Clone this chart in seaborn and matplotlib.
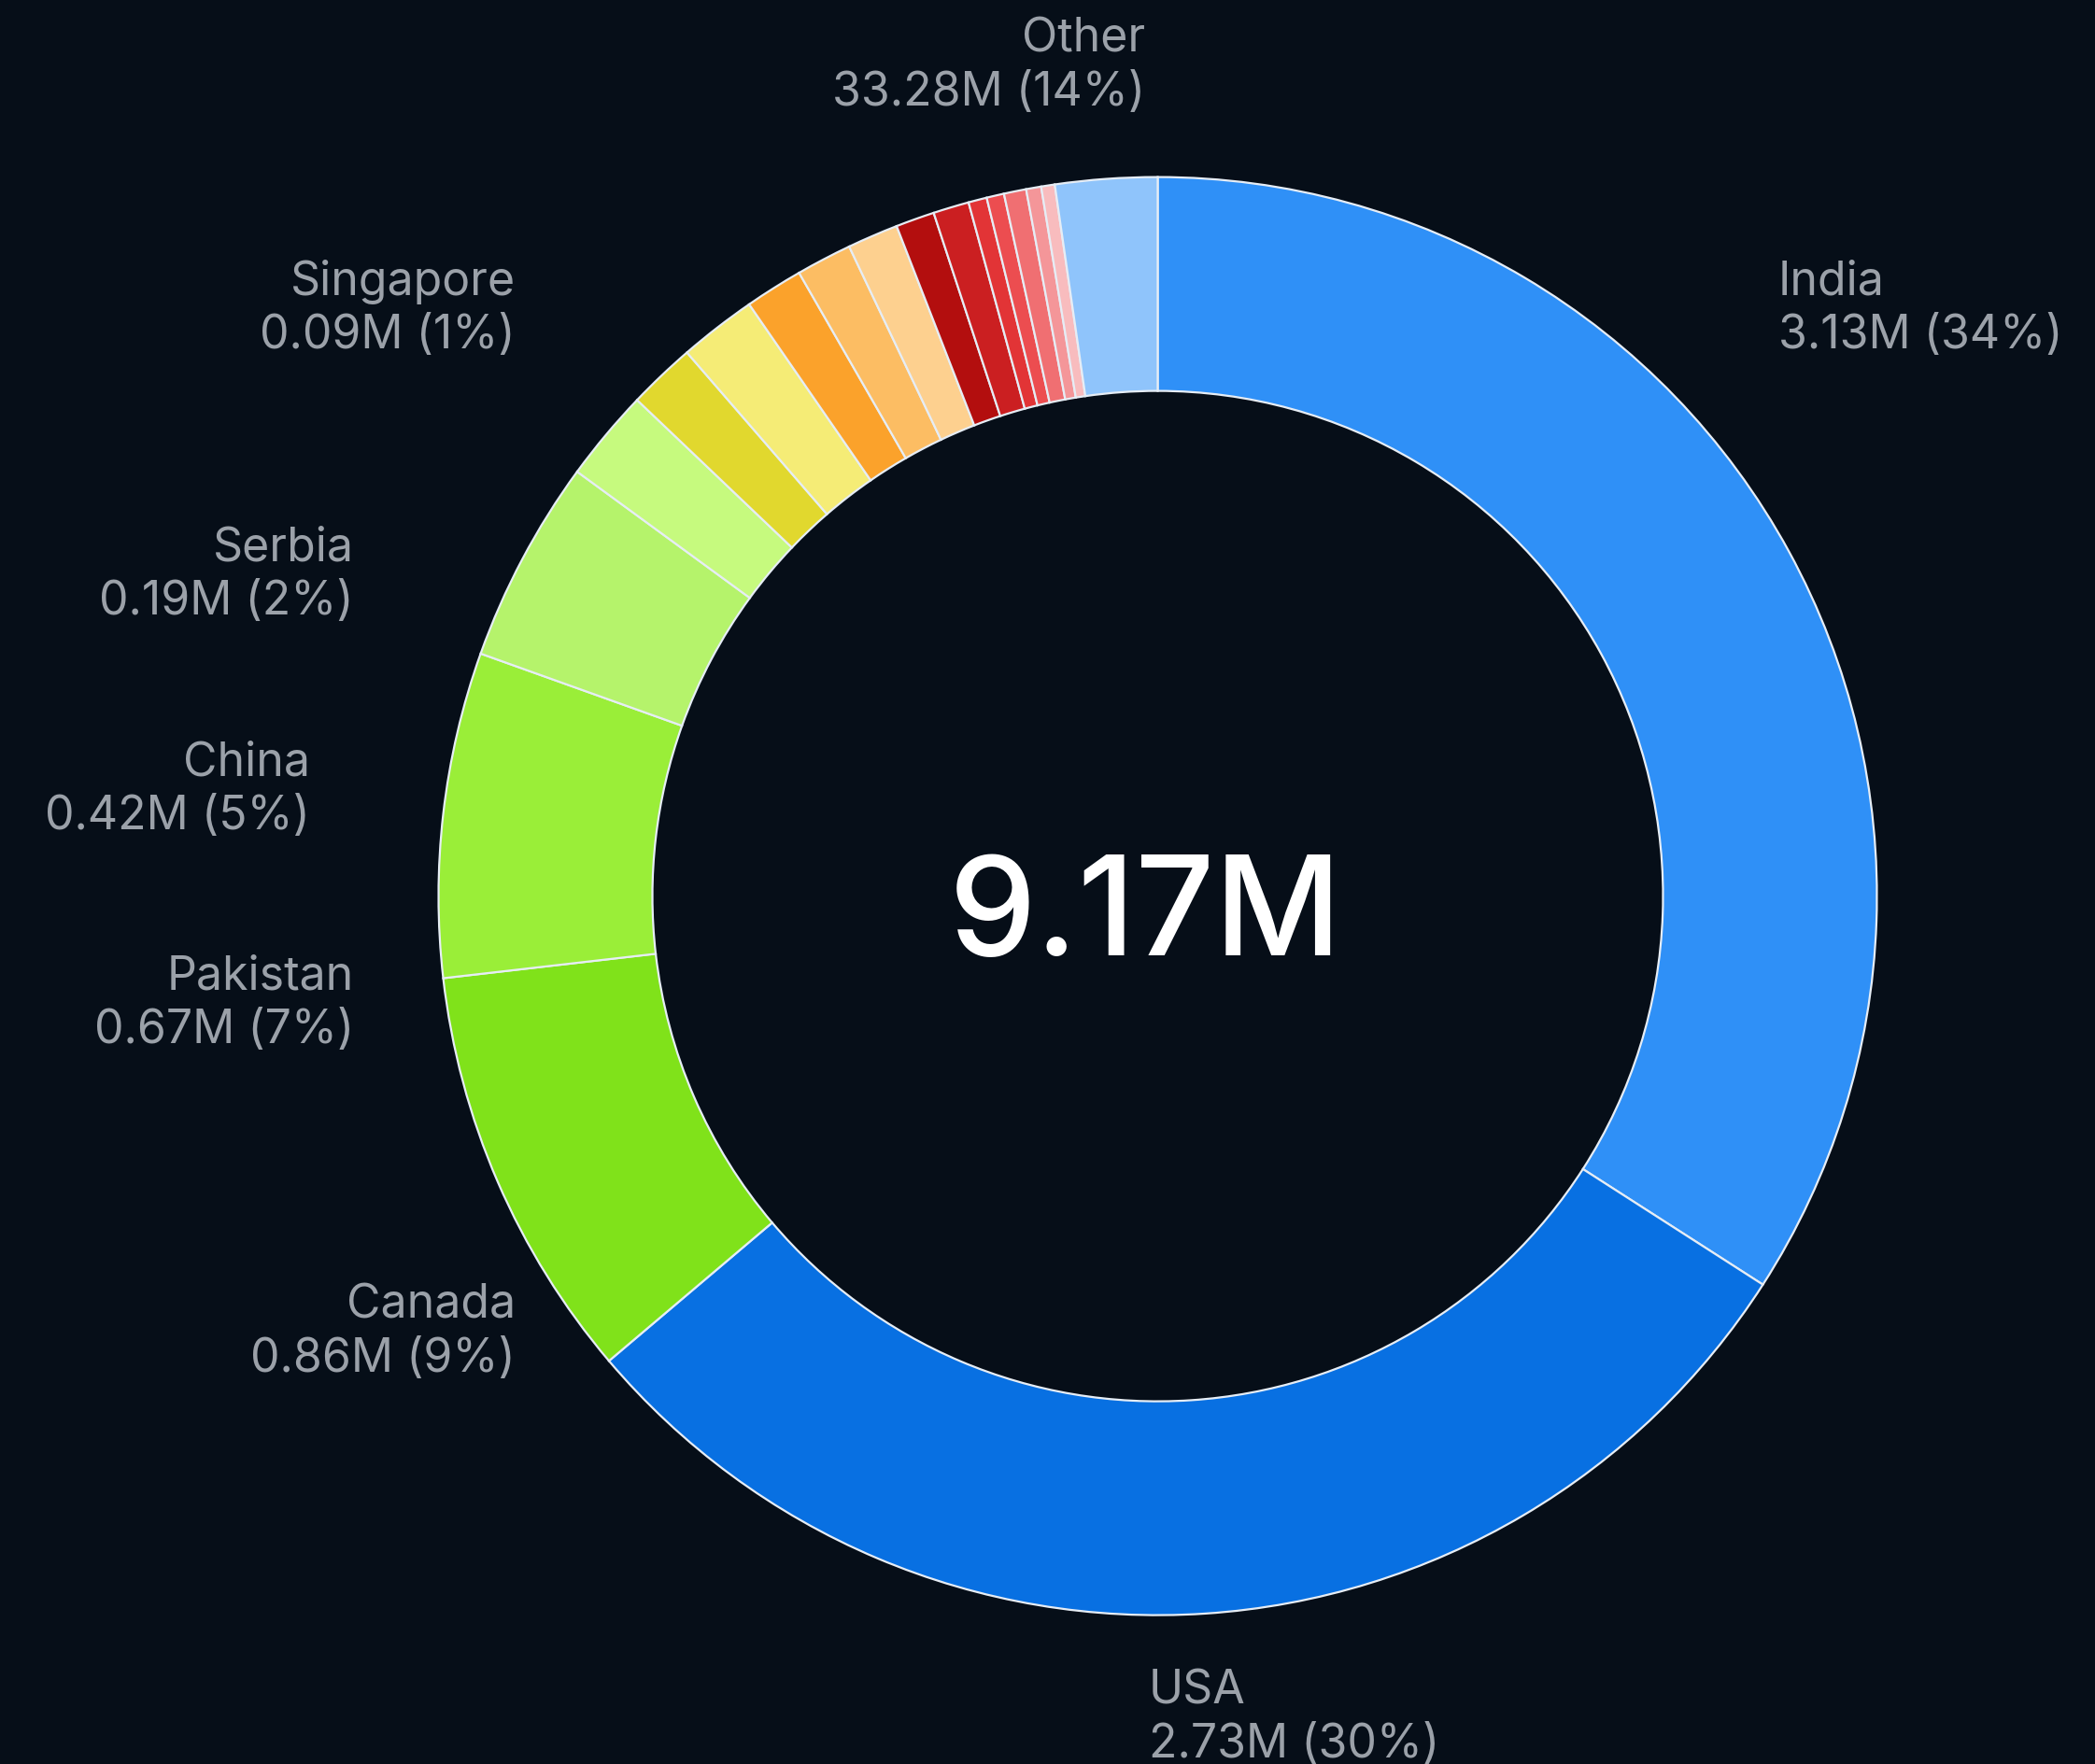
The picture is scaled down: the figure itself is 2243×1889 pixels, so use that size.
import matplotlib.pyplot as plt
import seaborn as sns

# slice values in millions, clockwise from the top
countries = ['India', 'USA', 'Canada', 'Pakistan', 'China', 'Serbia',
             'c7', 'c8', 'Singapore', 'c10', 'c11', 'c12', 'c13', 'c14',
             'c15', 'c16', 'c17', 'c18', 'Other']
values = [3.13, 2.73, 0.86, 0.67, 0.42, 0.19,
          0.14, 0.16, 0.12, 0.115, 0.105, 0.08, 0.074, 0.038,
          0.036, 0.046, 0.031, 0.028, 0.21]
colors = ['#2f90f7', '#0870e2', '#80e21a', '#9aee38', '#b5f36b', '#c6fa7e',
          '#e1d82e', '#f5ec76', '#fba22b', '#fcbd63', '#fdd08f', '#b30e0e',
          '#cb1f21', '#e23436', '#ec4d50', '#f06f72', '#f49699', '#f8bcbe',
          '#8fc4fb']

# labelled slices: name, value line
label_names = ['India', 'USA', 'Canada', 'Pakistan', 'China', 'Serbia', 'Singapore', 'Other']
label_values = ['3.13M (34%)', '2.73M (30%)', '0.86M (9%)', '0.67M (7%)',
                '0.42M (5%)', '0.19M (2%)', '0.09M (1%)', '33.28M (14%)']
total_text = '9.17M'

# label anchor positions (pixels from top-left) and alignment
label_pos = [(1904, 302, 'left'), (1230, 1811, 'left'), (552, 1398, 'right'),
             (379, 1046, 'right'), (332, 817, 'right'), (379, 587, 'right'),
             (552, 302, 'right'), (1226, 42, 'right')]

bg = '#060e18'
sns.set_theme(style='dark')
plt.rcParams['font.family'] = ['Inter', 'DejaVu Sans']

W, H = 2243, 1890
fig = plt.figure(figsize=(W / 100, H / 100), dpi=100, facecolor=bg)
ax = fig.add_axes([0, 0, 1, 1])
ax.set_facecolor(bg)

cx, cy, r = 1239.5, H - 960.6, 770
ax.pie(values, colors=colors, startangle=90, counterclock=False,
       center=(cx, cy), radius=r,
       wedgeprops=dict(width=229, edgecolor='#e6edf5', linewidth=1.6))
ax.set_xlim(0, W)
ax.set_ylim(0, H)
ax.set_aspect('equal')
ax.axis('off')

ax.text(1226, H - 1023, total_text, color='white', fontsize=107,
        fontweight='medium', ha='center', va='baseline')

for name, val, (x, y, ha) in zip(label_names, label_values, label_pos):
    ax.text(x, H - y, name, color='#9ba1a9', fontsize=36, ha=ha, va='center')
    ax.text(x, H - y - 58, val, color='#9ba1a9', fontsize=36, ha=ha, va='center')

plt.savefig('out.png', dpi=100, facecolor=bg)
